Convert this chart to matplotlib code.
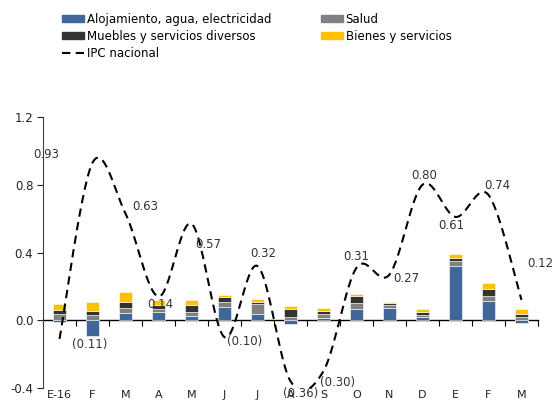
import numpy as np
import matplotlib
matplotlib.use('Agg')
import matplotlib.pyplot as plt
from matplotlib.patches import Patch
from matplotlib.lines import Line2D

# monthly contributions (percentage points) and national CPI change
meses = ['E-16', 'F', 'M', 'A', 'M', 'J', 'J', 'A', 'S', 'O', 'N', 'D', 'E', 'F', 'M']
ipc = [-0.11, 0.93, 0.63, 0.14, 0.57, -0.10, 0.32, -0.36, -0.30, 0.31, 0.27, 0.80, 0.61, 0.74, 0.12]
alojamiento = [-0.010, -0.092, 0.043, 0.049, 0.026, 0.079, 0.039, -0.020, 0.013, 0.068,
               0.074, 0.018, 0.319, 0.114, -0.018]
salud = [0.035, 0.031, 0.030, 0.020, 0.025, 0.028, 0.059, 0.020, 0.025, 0.033,
         0.014, 0.012, 0.028, 0.030, 0.018]
muebles = [0.027, 0.026, 0.035, 0.020, 0.041, 0.028, 0.007, 0.046, 0.015, 0.042,
           0.014, 0.018, 0.022, 0.043, 0.020]
bienes = [0.033, 0.048, 0.057, 0.030, 0.026, 0.014, 0.019, 0.016, 0.020, 0.014,
          0.008, 0.016, 0.020, 0.035, 0.028]

series = [
    ('Alojamiento, agua, electricidad', alojamiento, '#41669a'),
    ('Salud', salud, '#808080'),
    ('Muebles y servicios diversos', muebles, '#333333'),
    ('Bienes y servicios', bienes, '#ffc000'),
]

# label offsets in pixels from each CPI point
label_offsets = [(30, -6), (-46, 8), (20, 7), (2, -8), (17, -21), (20, -4), (6, 13),
                 (10, -12), (14, -11), (0, 11), (17, -4), (2, 9), (-4, -9), (9, 9), (19, 36)]

FS = 8.5
plt.rcParams['font.family'] = 'DejaVu Sans'
plt.rcParams['font.size'] = FS


def smooth(x, y, n=30):
    # Catmull-Rom style bezier through the points (like a spreadsheet smoothed line)
    pts = np.column_stack([x, y]).astype(float)
    pad = np.vstack([pts[0], pts, pts[-1]])
    out = []
    t = np.linspace(0, 1, n)[:, None]
    for i in range(len(pts) - 1):
        p0, p1, p2, p3 = pad[i], pad[i + 1], pad[i + 2], pad[i + 3]
        c1 = p1 + (p2 - p0) / 6
        c2 = p2 - (p3 - p1) / 6
        seg = ((1 - t) ** 3) * p1 + 3 * ((1 - t) ** 2) * t * c1 + 3 * (1 - t) * t ** 2 * c2 + t ** 3 * p2
        out.append(seg if i == 0 else seg[1:])
    out = np.vstack(out)
    return out[:, 0], out[:, 1]


fig = plt.figure(figsize=(5.53, 4.05), dpi=100)
ax = fig.add_axes([43 / 553, 1 - 388 / 405, 495 / 553, 271 / 405])

x = np.arange(len(meses))
pos_bottom = np.zeros(len(meses))
neg_bottom = np.zeros(len(meses))
for name, vals, color in series:
    vals = np.array(vals)
    bottom = np.where(vals >= 0, pos_bottom, neg_bottom)
    ax.bar(x, vals, width=0.4, bottom=bottom, color=color, edgecolor='white',
           linewidth=0.4, zorder=2)
    pos_bottom += np.clip(vals, 0, None)
    neg_bottom += np.clip(vals, None, 0)

sx, sy = smooth(x, ipc)
ax.plot(sx, sy, color='black', lw=1.5, linestyle=(0, (4, 2.6)), zorder=3)

for xi, v, off in zip(x, ipc, label_offsets):
    txt = '({:.2f})'.format(abs(v)) if v < 0 else '{:.2f}'.format(v)
    ax.annotate(txt, (xi, v), xytext=off, textcoords='offset pixels',
                ha='center', va='center', fontsize=FS, color='#333333', zorder=4)

ax.set_xlim(-0.5, len(meses) - 0.5)
ax.set_ylim(-0.4, 1.2)
ax.set_yticks([-0.4, 0.0, 0.4, 0.8, 1.2])
ax.set_yticklabels(['-0.4', '0.0', '0.4', '0.8', '1.2'])
ax.set_xticks(x)
ax.set_xticklabels(meses, fontsize=8)
ax.tick_params(axis='x', length=0, pad=1.5, colors='#222222')
ax.tick_params(axis='y', length=4, width=0.8, direction='out', pad=3, colors='#222222')
for s in ['top', 'right', 'bottom']:
    ax.spines[s].set_visible(False)
ax.spines['left'].set_color('#404040')
ax.spines['left'].set_linewidth(0.8)

# zero line with category boundary ticks
zero_axis = ax.secondary_xaxis(0.25)
zero_axis.set_xticks(np.arange(-0.5, len(meses)))
zero_axis.tick_params(length=4, width=0.8, labelbottom=False, direction='out', color='black')
zero_axis.set_xticklabels([])
zero_axis.spines['bottom'].set_linewidth(1.0)
zero_axis.spines['bottom'].set_color('black')

handles = [
    Patch(color=series[0][2]), Patch(color=series[2][2]),
    Line2D([], [], color='black', lw=1.5, linestyle=(0, (4, 2.6))),
    Patch(color=series[1][2]), Patch(color=series[3][2]),
]
labels = [series[0][0], series[2][0], 'IPC nacional', series[1][0], series[3][0]]
fig.legend(handles, labels, loc='upper left', bbox_to_anchor=(62 / 553, 1 - 13 / 405),
           ncol=2, frameon=False, fontsize=FS, handlelength=1.9, handleheight=0.5,
           handletextpad=0.2, labelspacing=0.32, columnspacing=4.2,
           borderpad=0, borderaxespad=0)

fig.savefig('out.png', dpi=100)
